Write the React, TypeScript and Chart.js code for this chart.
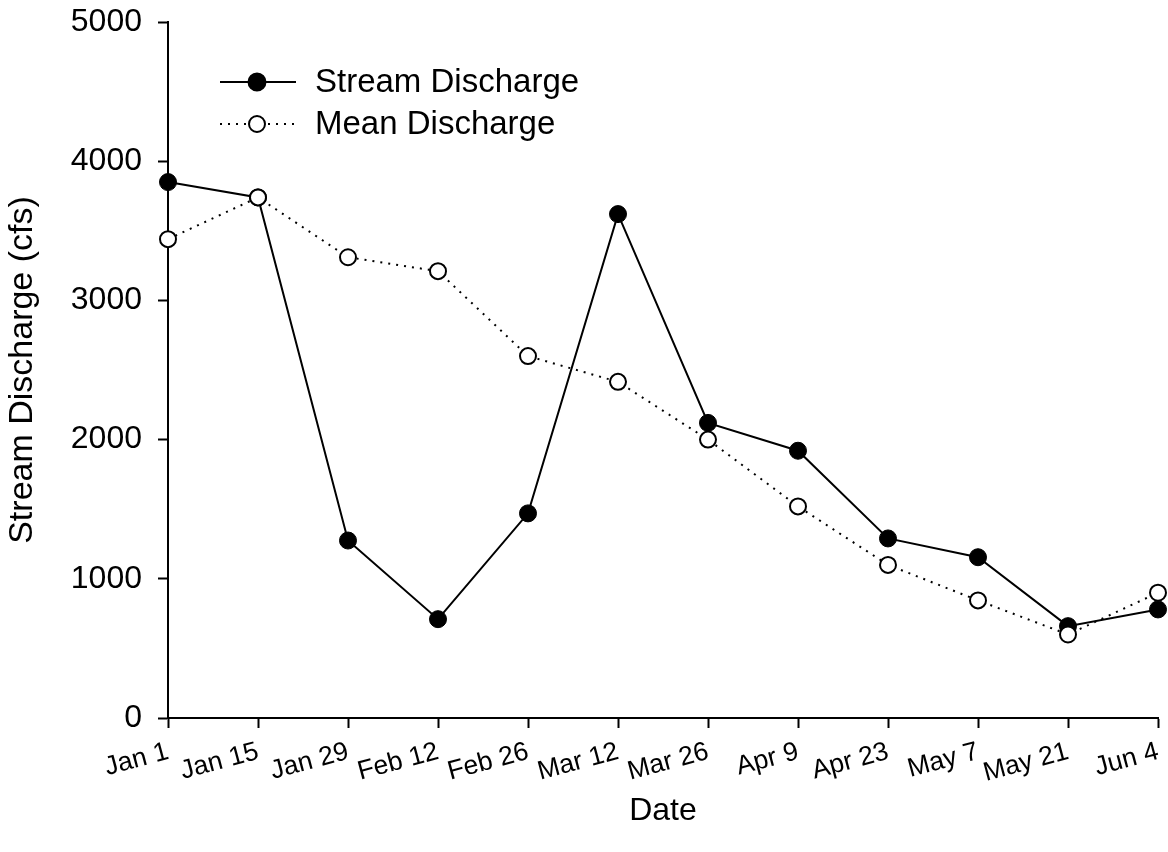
import React, { useEffect, useRef } from "react";
import { Chart, registerables } from "chart.js";

Chart.register(...registerables);

const dates = ["Jan 1", "Jan 15", "Jan 29", "Feb 12", "Feb 26", "Mar 12", "Mar 26", "Apr 9", "Apr 23", "May 7", "May 21", "Jun 4"];
const streamDischarge = [3850, 3740, 1275, 710, 1470, 3620, 2120, 1920, 1290, 1155, 660, 780];
const meanDischarge = [3440, 3740, 3310, 3210, 2600, 2415, 2000, 1520, 1100, 845, 600, 900];
const legendLabels = ["Stream Discharge", "Mean Discharge"];

const FONT = "'Liberation Sans', Arial, Helvetica, sans-serif";

const legendPlugin = {
  id: "customLegend",
  afterDraw(chart: any) {
    const ctx = chart.ctx;
    ctx.save();
    const rows = [
      { y: 82, dash: [] as number[], fill: "#000000", r: 8.5 },
      { y: 124, dash: [2, 6], fill: "#ffffff", r: 8 },
    ];
    rows.forEach((row, i) => {
      ctx.beginPath();
      ctx.setLineDash(row.dash);
      ctx.lineWidth = 2;
      ctx.strokeStyle = "#000";
      ctx.moveTo(220, row.y);
      ctx.lineTo(296, row.y);
      ctx.stroke();
      ctx.setLineDash([]);
      ctx.beginPath();
      ctx.arc(257, row.y, row.r, 0, Math.PI * 2);
      ctx.fillStyle = row.fill;
      ctx.fill();
      ctx.lineWidth = 2;
      ctx.stroke();
      ctx.fillStyle = "#000";
      ctx.font = `33px ${FONT}`;
      ctx.textAlign = "left";
      ctx.textBaseline = "middle";
      ctx.fillText(legendLabels[i], 315, row.y + 1);
    });
    ctx.restore();
  },
};

export default function App() {
  const canvasRef = useRef<HTMLCanvasElement>(null);

  useEffect(() => {
    document.body.style.margin = "0";
    const canvas = canvasRef.current;
    if (!canvas) return;
    const chart = new Chart(canvas, {
      type: "line",
      data: {
        labels: dates,
        datasets: [
          {
            label: legendLabels[0],
            data: streamDischarge,
            borderColor: "#000",
            borderWidth: 2,
            backgroundColor: "#000",
            pointBackgroundColor: "#000",
            pointBorderColor: "#000",
            pointBorderWidth: 1,
            pointRadius: 8.5,
            tension: 0,
            fill: false,
            clip: false,
            order: 1,
          },
          {
            label: legendLabels[1],
            data: meanDischarge,
            borderColor: "#000",
            borderWidth: 2,
            borderDash: [2, 6],
            backgroundColor: "#fff",
            pointBackgroundColor: "#fff",
            pointBorderColor: "#000",
            pointBorderWidth: 2,
            pointRadius: 8,
            tension: 0,
            fill: false,
            clip: false,
            order: 0,
          },
        ],
      },
      options: {
        animation: false,
        responsive: false,
        maintainAspectRatio: false,
        layout: { padding: { top: 22, right: 8, left: 0, bottom: 0 } },
        plugins: {
          legend: { display: false },
          tooltip: { enabled: false },
        },
        scales: {
          x: {
            type: "category",
            offset: false,
            grid: {
              display: true,
              drawOnChartArea: false,
              drawTicks: true,
              tickLength: 10,
              tickColor: "#000",
              tickWidth: 2,
            },
            border: { display: true, color: "#000", width: 2 },
            ticks: {
              color: "#000",
              font: { family: FONT, size: 26.5 },
              minRotation: 15,
              maxRotation: 15,
              autoSkip: false,
              padding: 8,
            },
            title: {
              display: true,
              text: "Date",
              color: "#000",
              font: { family: FONT, size: 32 },
              padding: { top: 0, bottom: 22 },
            },
            afterFit(scale: any) {
              scale.height = 134;
              scale.paddingLeft = 0;
              scale.paddingRight = 0;
              scale.paddingTop = 0;
              scale.paddingBottom = 0;
            },
          },
          y: {
            min: 0,
            max: 5000,
            grid: {
              display: true,
              drawOnChartArea: false,
              drawTicks: true,
              tickLength: 10,
              tickColor: "#000",
              tickWidth: 2,
            },
            border: { display: true, color: "#000", width: 2 },
            ticks: {
              stepSize: 1000,
              color: "#000",
              font: { family: FONT, size: 32 },
              padding: 16,
              callback: (value: any) => String(value),
            },
            title: {
              display: true,
              text: "Stream Discharge (cfs)",
              color: "#000",
              font: { family: FONT, size: 34 },
              padding: { top: 2, bottom: 0 },
            },
            afterFit(scale: any) {
              scale.width = 168;
              scale.paddingLeft = 0;
              scale.paddingRight = 0;
              scale.paddingTop = 0;
              scale.paddingBottom = 0;
            },
          },
        },
      },
      plugins: [legendPlugin],
    });
    return () => chart.destroy();
  }, []);

  return (
    <div style={{ position: "absolute", left: 0, top: 0, width: 1168, height: 852, background: "#fff" }}>
      <canvas ref={canvasRef} width={1168} height={852} style={{ width: 1168, height: 852 }} />
    </div>
  );
}
